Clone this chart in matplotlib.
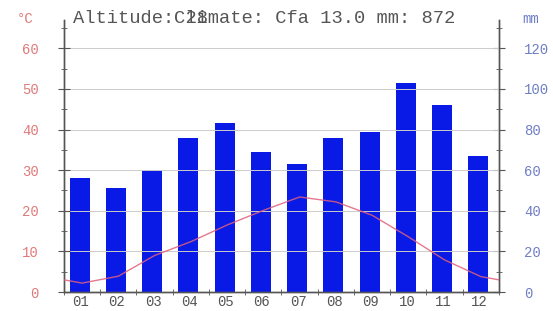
import numpy as np
import matplotlib.pyplot as plt
from matplotlib.ticker import MultipleLocator

months = ["01", "02", "03", "04", "05", "06", "07", "08", "09", "10", "11", "12"]
precip_mm = [56, 51, 60, 76, 83, 69, 63, 76, 79, 103, 92, 67]
temp_c = [2.2, 3.9, 9.0, 12.4, 16.5, 20.1, 23.4, 22.2, 18.9, 13.6, 7.9, 3.8]
altitude_txt = "Altitude: 28"
climate_txt = "Climate: Cfa 13.0 mm: 872"

red_lbl = "#e07a7a"
blue_lbl = "#6f7fc4"
spine_c = "#555555"

fig = plt.figure(figsize=(5.53, 3.11), dpi=100)
ax = fig.add_axes([0.1157, 0.061, 0.7866, 0.875])
ax2 = ax.twinx()

x = np.arange(1, 13)
ax2.bar(x - 0.07, precip_mm, width=0.55, color="#0a1ae6", zorder=2)
ax2.set_ylim(0, 134)

# temperature line, wrapped at both ends for Dec/Jan continuity
edge = (temp_c[0] + temp_c[-1]) / 2
tx = np.concatenate([[0.5], x, [12.5]])
ty = np.concatenate([[edge], temp_c, [edge]])
ax.plot(tx, ty, color="#e0607a", lw=1.0, alpha=0.85, zorder=5)
ax.set_ylim(0, 67)
ax.set_xlim(0.5, 12.5)
ax.set_zorder(ax2.get_zorder() + 1)
ax.patch.set_visible(False)

for v in range(10, 61, 10):
    ax.axhline(v, color="#cccccc", lw=0.7, zorder=0)

ax.set_yticks(range(0, 61, 10))
ax.yaxis.set_minor_locator(MultipleLocator(5))
ax2.set_yticks(range(0, 121, 20))
ax2.yaxis.set_minor_locator(MultipleLocator(10))
ax.set_xticks(x - 0.04)
ax.set_xticklabels(months)
ax.set_xticks(np.arange(0.5, 13, 1), minor=True)

mono = "Liberation Mono"
ax.tick_params(axis="y", which="both", direction="inout", color=spine_c,
               labelcolor=red_lbl, labelsize=10, pad=14)
ax.tick_params(axis="y", which="major", length=8)
ax.tick_params(axis="y", which="minor", length=5)
ax.tick_params(axis="x", which="major", length=0, labelsize=10, labelcolor="#555555", pad=2)
ax.tick_params(axis="x", which="minor", length=4, direction="inout", color=spine_c)
ax2.tick_params(axis="y", which="both", direction="inout", color=spine_c,
                labelcolor=blue_lbl, labelsize=10, pad=14)
ax2.tick_params(axis="y", which="major", length=8)
ax2.tick_params(axis="y", which="minor", length=5)
for lab in ax.get_yticklabels() + ax.get_xticklabels() + ax2.get_yticklabels():
    lab.set_family(mono)

for a in (ax, ax2):
    a.spines["top"].set_visible(False)
    for s in ("left", "right", "bottom"):
        a.spines[s].set_color(spine_c)
        a.spines[s].set_linewidth(1.0)

# the two header texts overlap in the original, kept that way
fig.text(0.132, 0.925, altitude_txt, family=mono, fontsize=13.5, color="#555555")
fig.text(0.132 + 9 * 0.6 * 13.5 / 72 * 100 / 553, 0.925, climate_txt, family=mono,
         fontsize=13.5, color="#555555")
fig.text(0.03, 0.925, "°C", family=mono, fontsize=10, color=red_lbl)
fig.text(0.945, 0.925, "mm", family=mono, fontsize=10, color=blue_lbl)

fig.savefig("out.png", dpi=100)
